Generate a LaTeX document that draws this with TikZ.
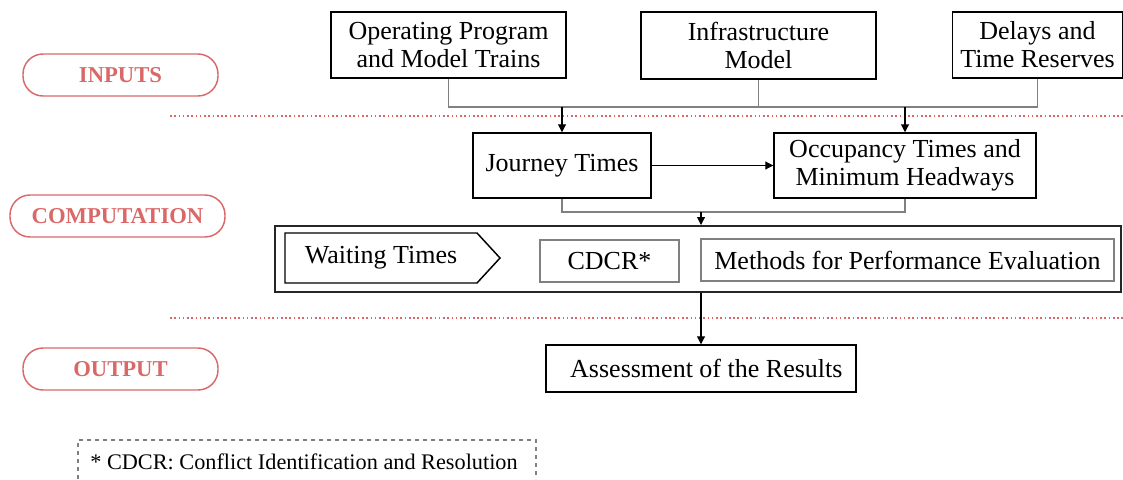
\documentclass[tikz,border=0pt]{standalone}
\usepackage{fontspec}
\setmainfont{Liberation Serif}
\usetikzlibrary{arrows.meta}
\definecolor{pill}{HTML}{DA6868}
\definecolor{gline}{HTML}{808080}
\tikzset{
  box/.style 2 args={draw=black, line width=1.1pt, minimum width=#1*0.75pt, minimum height=#2*0.75pt, inner sep=0pt, align=center, font=\fontsize{19.5}{21}\selectfont},
  gbox/.style 2 args={box={#1}{#2}, draw=gline},
  pillbox/.style 2 args={draw=pill, line width=1.1pt, rounded corners=15pt, minimum width=#1*0.75pt, minimum height=#2*0.75pt, inner sep=0pt, text=pill, font=\fontsize{17}{20}\selectfont\bfseries},
  sep/.style={draw=pill, line width=1.2pt, dotted},
  conn/.style={draw=gline, line width=0.8pt},
  arr/.style={draw=black, line width=0.8pt, -{Triangle[length=6pt,width=6pt]}},
}
\begin{document}
\begin{tikzpicture}[x=0.75pt, y=-0.75pt]
\useasboundingbox (0,0) rectangle (1123,479);
% phase labels
\node[pillbox={195}{42}] (inputs) at (120.5,75) {INPUTS};
\node[pillbox={215}{42}] (comp) at (117.5,216) {COMPUTATION};
\node[pillbox={195}{42}] (output) at (120.5,369) {OUTPUT};
% separators
\coordinate (s1a) at (170,116); \coordinate (s1b) at (1123,116);
\coordinate (s2a) at (170,318); \coordinate (s2b) at (1123,318);
\draw[sep] (s1a) -- (s1b);
\draw[sep] (s2a) -- (s2b);
% inputs
\node[box={235}{66}] (op) at (448.5,45) {Operating Program\\and Model Trains};
\node[box={235}{67}] (inf) at (758.5,45.5) {Infrastructure\\Model};
\node[box={170}{66}] (del) at (1037.5,45) {Delays and\\Time Reserves};
% computation
\node[box={178}{65}] (jt) at (562,165.5) {Journey Times};
\node[box={262}{65}] (occ) at (905,165.5) {Occupancy Times and\\Minimum Headways};
\node[box={846}{66}, line width=1.5pt, draw=black!85] (big) at (698,259) {};
\draw[line width=1.1pt] (285,233) -- (477,233) -- (500,258) -- (477,283) -- (285,283) -- cycle;
\node[font=\fontsize{19.5}{21}\selectfont, inner sep=0pt] (wait) at (381,258) {Waiting Times};
\node[gbox={139}{42}] (cdcr) at (609.5,261) {CDCR*};
\node[gbox={413}{42}] (meth) at (907.5,260) {Methods for Performance Evaluation};
% output
\node[box={310}{47}] (ass) at (701,368.5) {\hspace{8pt}Assessment of the Results};
% footnote
\node[font=\fontsize{16.7}{19}\selectfont, inner sep=0pt] (foot) at (304,462) {* CDCR: Conflict Identification and Resolution};
\draw[gline, line width=0.8pt, dashed] (78,479) -- (78,440) -- (536,440) -- (536,479);
% connectors
\coordinate (b1) at (448,107);
\coordinate (b3) at (562,212);
\draw[conn] (op.south) |- (del.south |- b1) -- (del.south);
\draw[conn] (inf.south) -- (inf.south |- b1);
\draw[arr] (jt.north |- b1) -- (jt.north);
\draw[arr] (occ.north |- b1) -- (occ.north);
\draw[arr] (jt.east) -- (occ.west);
\draw[conn] (jt.south) |- (occ.south |- b3) -- (occ.south);
\draw[arr] (ass.north |- b3) -- (ass.north |- big.north);
\draw[arr] (ass.north |- big.south) -- (ass.north);
\end{tikzpicture}
\end{document}
